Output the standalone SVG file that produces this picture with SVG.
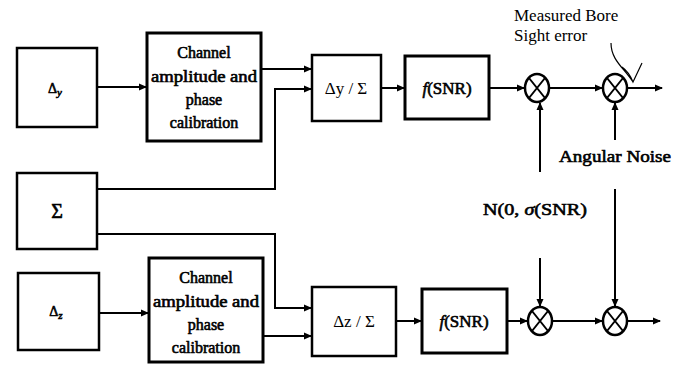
<svg xmlns="http://www.w3.org/2000/svg" width="683" height="365" viewBox="0 0 683 365">
<defs>
<marker id="ah" markerWidth="8" markerHeight="8" refX="7" refY="4" orient="auto" markerUnits="userSpaceOnUse">
<path d="M0,0.5 L8,4 L0,7.5 Z" fill="#000"/>
</marker>
</defs>
<style>
.box{fill:#fff;stroke:#000;stroke-width:2.5}
.thick{stroke-width:3}
.ln{fill:none;stroke:#000;stroke-width:2}
.arr{fill:none;stroke:#000;stroke-width:2;marker-end:url(#ah)}
.t{font-family:"Liberation Serif","Times New Roman",serif;fill:#000;text-anchor:middle}
.b{stroke:#000;stroke-width:0.6}
.mul{fill:#fff;stroke:#000;stroke-width:2.5}
</style>
<rect width="683" height="365" fill="#fff"/>

<g id="connectors">
<path class="arr" d="M97,87 H146"/>
<path class="arr" d="M261,69 H311"/>
<path class="arr" d="M97,189 H275 V89 H311"/>
<path class="arr" d="M381,88 H404"/>
<path class="arr" d="M489,88 H524"/>
<path class="arr" d="M549,88 H602"/>
<path class="arr" d="M627,88 H662"/>
<path class="arr" d="M540,172 V103"/>
<path class="arr" d="M615,140 V103"/>
<path class="arr" d="M97,234 H275 V308 H311"/>
<path class="arr" d="M99,313 H148"/>
<path class="arr" d="M263,336 H311"/>
<path class="arr" d="M396,321 H421"/>
<path class="arr" d="M507,321 H527"/>
<path class="arr" d="M552,321 H602"/>
<path class="arr" d="M627,321 H660"/>
<path class="arr" d="M540,258 V306"/>
<path class="arr" d="M615,189 V306"/>
<path class="ln" style="stroke-width:1.2" d="M611,43 C611,60 624,68 633,82 M622,67 Q629,72 633,82 L642,63"/>
</g>

<g id="dy">
<rect class="box" x="17" y="48" width="80" height="79"/>
<text class="t b" x="55" y="93" font-size="14">Δ<tspan font-size="11" font-style="italic" dy="3">y</tspan></text>
</g>
<g id="cal1">
<rect class="box thick" x="147" y="33" width="114" height="108"/>
<text class="t b" x="204" y="58" font-size="16">Channel</text>
<text class="t b" x="204" y="82" font-size="16" textLength="106" lengthAdjust="spacingAndGlyphs">amplitude and</text>
<text class="t b" x="204" y="105" font-size="16">phase</text>
<text class="t b" x="204" y="128" font-size="16">calibration</text>
</g>
<g id="sum">
<rect class="box" x="17" y="173" width="80" height="76"/>
<text class="t b" x="57" y="218" font-size="20">Σ</text>
</g>
<g id="dz">
<rect class="box" x="18" y="273" width="81" height="77"/>
<text class="t b" x="56" y="316" font-size="14">Δ<tspan font-size="11" font-style="italic" dy="3">z</tspan></text>
</g>
<g id="cal2">
<rect class="box thick" x="149" y="258" width="114" height="104"/>
<text class="t b" x="206" y="283" font-size="16">Channel</text>
<text class="t b" x="206" y="307" font-size="16" textLength="106" lengthAdjust="spacingAndGlyphs">amplitude and</text>
<text class="t b" x="206" y="330" font-size="16">phase</text>
<text class="t b" x="206" y="353" font-size="16">calibration</text>
</g>
<g id="dyS">
<rect class="box" x="312" y="55" width="69" height="66"/>
<text class="t" x="346" y="94" font-size="17">Δy / Σ</text>
</g>
<g id="fsnr1">
<rect class="box thick" x="405" y="56" width="84" height="63"/>
<text class="t b" x="447" y="94" font-size="17"><tspan font-style="italic">f</tspan>(SNR)</text>
</g>
<g id="dzS">
<rect class="box" x="312" y="287" width="84" height="69"/>
<text class="t" x="354" y="327" font-size="17">Δz / Σ</text>
</g>
<g id="fsnr2">
<rect class="box thick" x="422" y="289" width="85" height="64"/>
<text class="t b" x="464" y="327" font-size="17"><tspan font-style="italic">f</tspan>(SNR)</text>
</g>
<g id="m1">
<ellipse class="mul" cx="537" cy="88" rx="12" ry="14"/>
<path class="ln" d="M529,78 L545,98 M545,78 L529,98"/>
</g>
<g id="m2">
<ellipse class="mul" cx="615" cy="88" rx="12" ry="14"/>
<path class="ln" d="M607,78 L623,98 M623,78 L607,98"/>
</g>
<g id="m3">
<ellipse class="mul" cx="540" cy="321" rx="12" ry="14"/>
<path class="ln" d="M532,311 L548,331 M548,311 L532,331"/>
</g>
<g id="m4">
<ellipse class="mul" cx="615" cy="321" rx="12" ry="14"/>
<path class="ln" d="M607,311 L623,331 M623,311 L607,331"/>
</g>
<g id="labels">
<text class="t" x="514" y="21" font-size="17" style="text-anchor:start">Measured Bore</text>
<text class="t" x="514" y="41" font-size="17" style="text-anchor:start">Sight error</text>
<text class="t b" x="615" y="162" font-size="17" textLength="112" lengthAdjust="spacingAndGlyphs">Angular Noise</text>
<text class="t b" x="535" y="215" font-size="17" textLength="104" lengthAdjust="spacingAndGlyphs">N(0, <tspan font-style="italic">σ</tspan>(SNR)</text>
</g>
</svg>
